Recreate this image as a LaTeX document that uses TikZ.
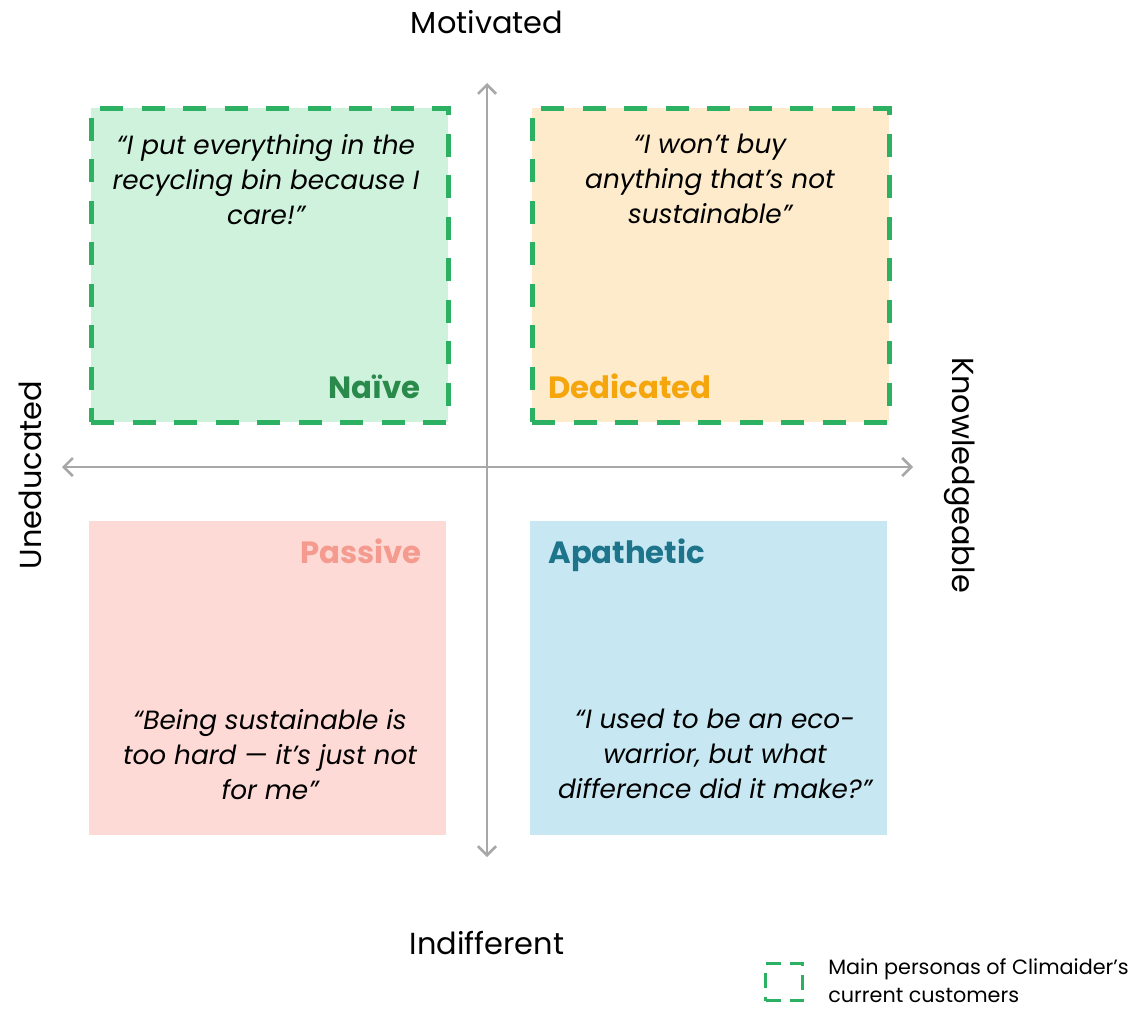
\documentclass[tikz,border=0pt]{standalone}
\usepackage{fontspec}
\setmainfont{Poppins}
\usetikzlibrary{arrows.meta}
\tikzset{>={Straight Barb[width=3.6mm,length=1.8mm]}}
\definecolor{personagreen}{HTML}{2CB062}
\definecolor{axisgray}{HTML}{A8A8A8}
\definecolor{naivefill}{HTML}{CFF2DD}
\definecolor{naivetext}{HTML}{2A8A4B}
\definecolor{dedicatedfill}{HTML}{FEEBCB}
\definecolor{dedicatedtext}{HTML}{F5A60C}
\definecolor{passivefill}{HTML}{FDDAD5}
\definecolor{passivetext}{HTML}{F59A8F}
\definecolor{apatheticfill}{HTML}{C7E8F2}
\definecolor{apathetictext}{HTML}{1E748A}

\begin{document}
\begin{tikzpicture}[x=0.02cm, y=-0.02cm,
  quad/.style = {minimum width=7.14cm, minimum height=6.28cm, inner sep=0, anchor=north west},
  persona/.style = {draw=personagreen, line width=2.7pt, dash pattern=on 0.46cm off 0.37cm},
  headline/.style = {font=\fontsize{17.5}{21}\selectfont\bfseries, inner sep=0},
  saying/.style = {font=\fontsize{15}{19.9}\selectfont\itshape, align=center, anchor=north, inner sep=0},
  axisname/.style = {font=\fontsize{17.3}{21}\selectfont, inner sep=0},
  axis/.style = {draw=axisgray, line width=1.5pt}]
\useasboundingbox (0,0) rectangle (1142,1010);

% the four quadrants
\node[quad, fill=naivefill, persona] (naive) at (89,106) {};
\node[quad, fill=dedicatedfill, persona] (dedicated) at (530,106) {};
\node[quad, fill=passivefill] (passive) at (89,521) {};
\node[quad, fill=apatheticfill] (apathetic) at (530,521) {};

% axes
\coordinate (top) at (487,83);
\coordinate (bottom) at (487,857);
\coordinate (left) at (62,467);
\coordinate (right) at (913,467);
\draw[axis, <->] (top) -- (bottom);
\draw[axis, <->] (left) -- (right);

\node[axisname] (motivated) at (487,22) {Motivated};
\node[axisname] (indifferent) at (487,943) {Indifferent};
\node[axisname, rotate=90] (uneducated) at (30,475) {Uneducated};
\node[axisname, rotate=-90] (knowledgeable) at (960,475) {Knowledgeable};

% persona names
\node[headline, text=naivetext, anchor=base east] (n1) at (421,398) {Naïve};
\node[headline, text=dedicatedtext, anchor=base west] (n2) at (548,398) {Dedicated};
\node[headline, text=passivetext, anchor=base east] (n3) at (422,563) {Passive};
\node[headline, text=apathetictext, anchor=base west] (n4) at (548,563) {Apathetic};

% what they say
\node[saying] (s1) at (266,134) {“I put everything in the\\recycling bin because I\\care!”};
\node[saying] (s2) at (710,134) {“I won’t buy\\anything that’s not\\sustainable”};
\node[saying] (s3) at (270,709) {“Being sustainable is\\too hard — it’s just not\\for me”};
\node[saying] (s4) at (715,709) {“I used to be an eco-\\warrior, but what\\difference did it make?”};

% legend
\node[draw=personagreen, line width=2.2pt, dash pattern=on 0.3cm off 0.18cm,
  minimum size=0.74cm, inner sep=0] (key) at (784,982) {};
\node[font=\fontsize{11.8}{15.9}\selectfont, align=left, anchor=west, inner sep=0]
  (keytext) at (828,981) {Main personas of Climaider’s\\current customers};
\end{tikzpicture}
\end{document}
